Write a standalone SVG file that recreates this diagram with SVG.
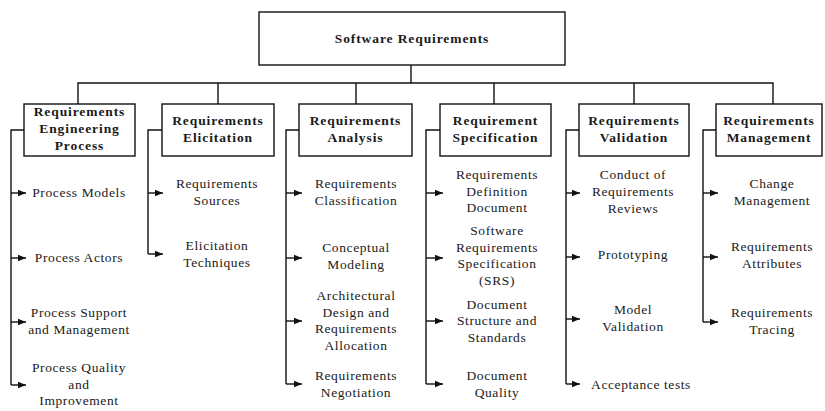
<svg xmlns="http://www.w3.org/2000/svg" width="825" height="411" viewBox="0 0 825 411">
<defs>
<marker id="ah" markerUnits="userSpaceOnUse" markerWidth="9" markerHeight="8" refX="8" refY="4" orient="auto">
<path d="M0,0.8 L8,4 L0,7.2 Z" fill="#111"/>
</marker>
<style>
rect{fill:#fff;stroke:#111;stroke-width:1.4}
.c path{fill:none;stroke:#111;stroke-width:1.4}
.a{marker-end:url(#ah)}
text{font-family:"Liberation Serif","Times New Roman",serif;fill:#1a1a1a;text-anchor:middle}
.h{font-weight:bold;font-size:13.5px;letter-spacing:0.9px}
.t{font-size:13.5px;letter-spacing:0.6px}
</style>
</defs>
<rect x="0" y="0" width="825" height="411" style="fill:#fff;stroke:none"/>
<g class="c" id="connectors">
<path d="M411,65 V83 M78,104 V83 H773 V104 M218,83 V104 M356,83 V104 M494,83 V104 M634,83 V104"/>
<path d="M24,130 H11 V385"/>
<path class="a" d="M11,193 H26"/><path class="a" d="M11,258 H26"/><path class="a" d="M11,322 H26"/><path class="a" d="M11,385 H26"/>
<path d="M162,130 H148 V254"/>
<path class="a" d="M148,193 H163"/><path class="a" d="M148,254 H163"/>
<path d="M299,130 H286 V384"/>
<path class="a" d="M286,193 H302"/><path class="a" d="M286,258 H302"/><path class="a" d="M286,321 H302"/><path class="a" d="M286,384 H302"/>
<path d="M440,130 H426 V384"/>
<path class="a" d="M426,193 H443"/><path class="a" d="M426,258 H443"/><path class="a" d="M426,321 H443"/><path class="a" d="M426,384 H443"/>
<path d="M579,130 H566 V384"/>
<path class="a" d="M566,193 H580"/><path class="a" d="M566,257 H580"/><path class="a" d="M566,319 H580"/><path class="a" d="M566,384 H580"/>
<path d="M716,130 H703 V322"/>
<path class="a" d="M703,193 H718"/><path class="a" d="M703,257 H718"/><path class="a" d="M703,322 H718"/>
</g>
<g id="root"><rect x="259" y="12" width="306" height="53"/><text class="h" x="412" y="43">Software Requirements</text></g>
<g id="h1"><rect x="24" y="104" width="111" height="52"/><text class="h" x="79.5" y="116">Requirements</text><text class="h" x="79.5" y="132.5">Engineering</text><text class="h" x="79.5" y="149.5">Process</text></g>
<g id="h2"><rect x="162" y="104" width="112" height="52"/><text class="h" x="218" y="125">Requirements</text><text class="h" x="218" y="142">Elicitation</text></g>
<g id="h3"><rect x="299" y="104" width="113" height="52"/><text class="h" x="355.5" y="125">Requirements</text><text class="h" x="355.5" y="142">Analysis</text></g>
<g id="h4"><rect x="440" y="104" width="111" height="52"/><text class="h" x="495.5" y="125">Requirement</text><text class="h" x="495.5" y="142">Specification</text></g>
<g id="h5"><rect x="579" y="104" width="110" height="52"/><text class="h" x="634" y="125">Requirements</text><text class="h" x="634" y="142">Validation</text></g>
<g id="h6"><rect x="716" y="104" width="106" height="52"/><text class="h" x="769" y="125">Requirements</text><text class="h" x="769" y="142">Management</text></g>
<g id="c1">
<text class="t" x="79" y="197">Process Models</text>
<text class="t" x="79" y="262">Process Actors</text>
<text class="t" x="79" y="317">Process Support</text><text class="t" x="79" y="333.5">and Management</text>
<text class="t" x="79" y="372">Process Quality</text><text class="t" x="79" y="388.5">and</text><text class="t" x="79" y="405">Improvement</text>
</g>
<g id="c2">
<text class="t" x="217" y="188">Requirements</text><text class="t" x="217" y="204.5">Sources</text>
<text class="t" x="217" y="250">Elicitation</text><text class="t" x="217" y="266.5">Techniques</text>
</g>
<g id="c3">
<text class="t" x="356" y="188">Requirements</text><text class="t" x="356" y="204.5">Classification</text>
<text class="t" x="356" y="252">Conceptual</text><text class="t" x="356" y="268.5">Modeling</text>
<text class="t" x="356" y="300">Architectural</text><text class="t" x="356" y="316.5">Design and</text><text class="t" x="356" y="333">Requirements</text><text class="t" x="356" y="349.5">Allocation</text>
<text class="t" x="356" y="380">Requirements</text><text class="t" x="356" y="396.5">Negotiation</text>
</g>
<g id="c4">
<text class="t" x="497" y="179">Requirements</text><text class="t" x="497" y="195.5">Definition</text><text class="t" x="497" y="212">Document</text>
<text class="t" x="497" y="235">Software</text><text class="t" x="497" y="251.5">Requirements</text><text class="t" x="497" y="268">Specification</text><text class="t" x="497" y="284.5">(SRS)</text>
<text class="t" x="497" y="308.5">Document</text><text class="t" x="497" y="325">Structure and</text><text class="t" x="497" y="341.5">Standards</text>
<text class="t" x="497" y="380">Document</text><text class="t" x="497" y="396.5">Quality</text>
</g>
<g id="c5">
<text class="t" x="633" y="179">Conduct of</text><text class="t" x="633" y="196">Requirements</text><text class="t" x="633" y="213">Reviews</text>
<text class="t" x="633" y="259">Prototyping</text>
<text class="t" x="633" y="314">Model</text><text class="t" x="633" y="330.5">Validation</text>
<text class="t" x="641" y="389">Acceptance tests</text>
</g>
<g id="c6">
<text class="t" x="772" y="188">Change</text><text class="t" x="772" y="204.5">Management</text>
<text class="t" x="772" y="251">Requirements</text><text class="t" x="772" y="267.5">Attributes</text>
<text class="t" x="772" y="317">Requirements</text><text class="t" x="772" y="333.5">Tracing</text>
</g>
</svg>
